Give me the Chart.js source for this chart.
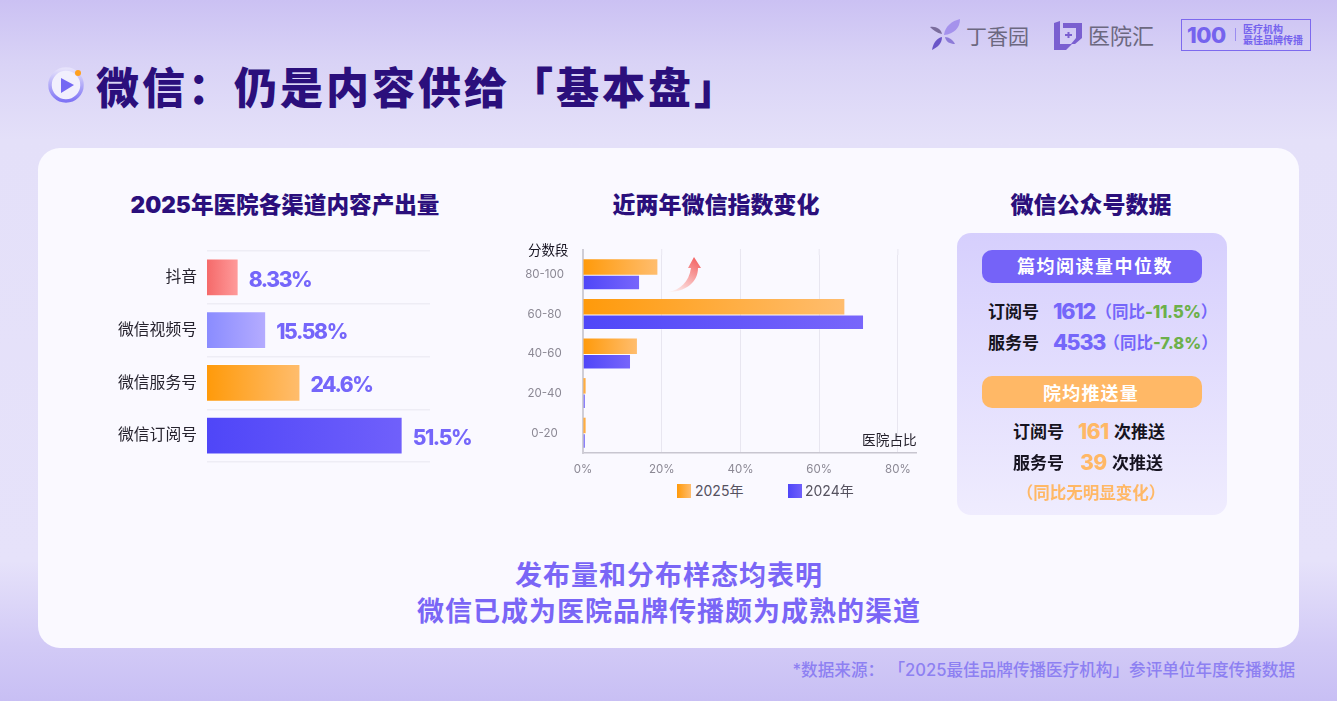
<!DOCTYPE html>
<html lang="zh-CN">
<head>
<meta charset="utf-8">
<title>微信：仍是内容供给「基本盘」</title>
<script src="https://cdn.jsdelivr.net/npm/chart.js@4"></script>
<style>
html,body{margin:0;padding:0}
body{width:1337px;height:701px;overflow:hidden;position:relative;font-family:Inter,"Noto Sans CJK SC",sans-serif;
  background:linear-gradient(180deg,#cbc1f3 0%,#d9d3f6 9%,#e4e0f9 20%,#e6e2fa 80%,#d2caf6 92%,#c8bff4 100%)}
.t{position:absolute;white-space:nowrap;line-height:1;transform:translateY(-50%)}
.c{transform:translate(-50%,-50%)}
.b{font-weight:700}
.h{font-weight:900;color:#2b0f7c;font-size:22.6px}
.p{color:#7566fa;font-weight:700}
.n{font-size:21.5px;font-weight:800;letter-spacing:-1.2px}
.g{color:#6cb04a;font-weight:800}
.o{color:#ffb866;font-weight:800}
.k{color:#161320;font-size:17px;font-weight:700}
#card{position:absolute;left:38px;top:148px;width:1261px;height:500px;border-radius:22px;background:#faf9ff}
#panel{position:absolute;left:957px;top:233px;width:270px;height:282px;border-radius:14px;background:linear-gradient(180deg,#d6cffd,#efecfe)}
.pill{position:absolute;left:982px;width:220px;border-radius:10px}
canvas{position:absolute}
.sw{position:absolute;width:14px;height:14px;top:484px}
</style>
</head>
<body>
<div id="card"></div>

<!-- title -->
<svg style="position:absolute;left:44px;top:62px" width="46" height="46" viewBox="0 0 46 46">
  <defs><linearGradient id="ring" x1="0" y1="0" x2="0" y2="1"><stop offset="0" stop-color="#e6e2fb"/><stop offset="1" stop-color="#7f74f5"/></linearGradient></defs>
  <circle cx="22" cy="23" r="16" fill="#f1effd" stroke="url(#ring)" stroke-width="3.5"/>
  <path d="M17 16 L30 23 L17 31 Z" fill="#7468f3"/>
  <circle cx="34" cy="11" r="3" fill="#ffa01e"/>
</svg>
<div class="t" style="left:96px;top:88px;font-size:43px;font-weight:900;letter-spacing:3px;color:#2b0f7c">微信：仍是内容供给「基本盘」</div>

<!-- logos -->
<svg style="position:absolute;left:928px;top:18px" width="36" height="34" viewBox="0 0 36 34">
  <path d="M16 17 C17 8 24 3 32 1 C32 10 26 16 16 17Z" fill="#a592ec"/>
  <path d="M14 16 C9 15 5 12 2 9 C8 8 13 11 14 16Z" fill="#7a6c9c"/>
  <path d="M14 19 C9 20 5 25 4 32 C10 29 14 25 14 19Z" fill="#6a55c8"/>
  <path d="M17 19 C21 19 25 22 27 26 C22 26 18 24 17 19Z" fill="#8d7bd8"/>
</svg>
<div class="t" style="left:966px;top:36px;font-size:21px;color:#6c6880">丁香园</div>
<svg style="position:absolute;left:1052px;top:20px" width="32" height="32" viewBox="0 0 32 32">
  <path d="M2 3 L8 1 V24 H20 L14 30 H2Z" fill="#7a5fd0"/>
  <path d="M11 3 H30 V18 L23 24 H19 L24 18 V8 H11Z" fill="#7a5fd0"/>
  <path d="M13 15 H20 M16.5 12 V18" stroke="#7a5fd0" stroke-width="2"/>
</svg>
<div class="t" style="left:1088px;top:36px;font-size:22px;color:#6c6880">医院汇</div>
<div style="position:absolute;left:1181px;top:19px;width:128px;height:30px;border:1px solid #7d69ee"></div>
<div class="t" style="left:1187px;top:35px;font-size:22px;font-weight:800;letter-spacing:-.5px;color:#7563ee">100</div>
<div style="position:absolute;left:1235px;top:28px;width:1px;height:13px;background:#9a8cf0"></div>
<div class="t b" style="left:1243px;top:29px;font-size:10px;color:#7563ee">医疗机构</div>
<div class="t b" style="left:1243px;top:40px;font-size:10px;color:#7563ee">最佳品牌传播</div>

<!-- section titles -->
<div class="t c h" style="left:285px;top:205px">2025年医院各渠道内容产出量</div>
<div class="t c h" style="left:716px;top:205px;font-size:23px">近两年微信指数变化</div>
<div class="t c h" style="left:1091px;top:205px;font-size:23px">微信公众号数据</div>

<!-- charts -->
<canvas id="shareChart" width="380" height="225" style="left:100px;top:245px"></canvas>
<canvas id="indexChart" width="412" height="240" style="left:508px;top:240px"></canvas>
<div class="t" style="left:528px;top:251px;font-size:13.5px;color:#161320">分数段</div>
<div class="t" style="left:862px;top:441px;font-size:13.7px;color:#26232e">医院占比</div>
<svg style="position:absolute;left:668px;top:252px" width="40" height="44" viewBox="0 0 40 44">
  <defs><linearGradient id="arrow" x1="0.1" y1="1" x2="0.7" y2="0"><stop offset="0" stop-color="#fdf3f3"/><stop offset="1" stop-color="#f46a6a"/></linearGradient></defs>
  <path d="M0 40 C12 38 21 30 23 16 H20 L26 5 L33 16 H30 C30 30 18 40 0 40Z" fill="url(#arrow)"/>
</svg>
<div class="sw" style="left:677px;background:linear-gradient(90deg,#ff9a0a,#ffbd6e)"></div>
<div class="t" style="left:695px;top:491px;font-size:14px;color:#55525f">2025年</div>
<div class="sw" style="left:788px;background:linear-gradient(90deg,#4f46f8,#7060fb)"></div>
<div class="t" style="left:805px;top:491px;font-size:14px;color:#55525f">2024年</div>

<!-- wechat account panel -->
<div id="panel"></div>
<div class="pill" style="top:250px;height:33px;background:#7563f8"></div>
<div class="t c b" style="left:1095px;top:267px;font-size:18px;letter-spacing:1.5px;color:#fff">篇均阅读量中位数</div>
<div class="t k" style="left:988px;top:312px">订阅号</div>
<div class="t p n" style="left:1053px;top:312px">1612</div>
<div class="t p" style="left:1095.5px;top:312px;font-size:16.5px">（同比<span class="g" style="font-size:17px;letter-spacing:-.3px">-11.5%</span>）</div>
<div class="t k" style="left:988px;top:343px">服务号</div>
<div class="t p n" style="left:1053px;top:343px">4533</div>
<div class="t p" style="left:1103.5px;top:343px;font-size:16.5px">（同比<span class="g">-7.8%</span>）</div>
<div class="pill" style="top:376px;height:32px;background:#ffb866"></div>
<div class="t c b" style="left:1091px;top:394px;font-size:18px;letter-spacing:1.2px;color:#fff">院均推送量</div>
<div class="t k" style="left:1013px;top:432px">订阅号</div>
<div class="t o" style="left:1078px;top:431px;font-size:21px;letter-spacing:-.6px">161</div>
<div class="t k" style="left:1114px;top:432px">次推送</div>
<div class="t k" style="left:1013px;top:463px">服务号</div>
<div class="t o" style="left:1080px;top:462px;font-size:21px;letter-spacing:-.6px">39</div>
<div class="t k" style="left:1112px;top:463px">次推送</div>
<div class="t c o" style="left:1091px;top:493px;font-size:16.5px;font-weight:700">（同比无明显变化）</div>

<!-- conclusion and source -->
<div class="t c b" style="left:669px;top:575px;font-size:27px;letter-spacing:1px;color:#7a66f6">发布量和分布样态均表明</div>
<div class="t c b" style="left:669px;top:611px;font-size:27px;letter-spacing:1px;color:#7a66f6">微信已成为医院品牌传播颇为成熟的渠道</div>
<div class="t" style="right:42px;top:670px;font-size:16.6px;font-weight:500;color:#8d80f2">*数据来源： 「2025最佳品牌传播医疗机构」参评单位年度传播数据</div>

<script>
const channels = ["抖音", "微信视频号", "微信服务号", "微信订阅号"];
const channelValues = [8.33, 15.58, 24.6, 51.5];
const channelColors = [["#f56a6a", "#ff9c9c"], ["#8a8cff", "#b5acff"], ["#ff9a0a", "#ffbd6e"], ["#4f46f8", "#7060fb"]];

const scoreBands = ["80-100", "60-80", "40-60", "20-40", "0-20"];
const values2025 = [18.9, 66.4, 13.7, 0.7, 0.7];
const values2024 = [14.5, 71.4, 12.2, 0.7, 0.7];
const percentTicks = [0, 20, 40, 60, 80];

const cjk = 'Inter, "Noto Sans CJK SC", sans-serif';

// gradient runs along each bar, so it has to be built from the bar's own pixels
function barGradient(ctx, from, to) {
  const chart = ctx.chart;
  if (!ctx.parsed || !chart.chartArea) return from;
  const sx = chart.scales.x;
  const g = chart.ctx.createLinearGradient(sx.getPixelForValue(0), 0, sx.getPixelForValue(ctx.parsed.x), 0);
  g.addColorStop(0, from);
  g.addColorStop(1, to);
  return g;
}

// fixed axis box, and no extra room for half a tick label
function fixY(width) {
  return (s) => { s.width = width; s.paddingTop = 0; s.paddingBottom = 0; };
}

const valueLabels = {
  id: "valueLabels",
  afterDatasetsDraw(chart) {
    const c = chart.ctx;
    c.save();
    c.font = "800 21px " + cjk;
    c.letterSpacing = "-1.4px";
    c.fillStyle = "#7566fa";
    c.textBaseline = "middle";
    chart.getDatasetMeta(0).data.forEach((bar, i) => {
      c.fillText(channelValues[i] + "%", bar.x + 10, bar.y + 3);
    });
    c.restore();
  }
};

new Chart(document.getElementById("shareChart"), {
  type: "bar",
  plugins: [valueLabels],
  data: {
    labels: channels,
    datasets: [{
      data: channelValues,
      backgroundColor: (ctx) => barGradient(ctx, channelColors[ctx.dataIndex][0], channelColors[ctx.dataIndex][1]),
      borderColor: "rgba(255,255,255,0.45)",
      borderWidth: 1,
      categoryPercentage: 1,
      barPercentage: 0.72
    }]
  },
  options: {
    indexAxis: "y",
    responsive: false,
    animation: false,
    layout: { padding: { top: 6, right: 50, bottom: 8 } },
    plugins: { legend: { display: false }, tooltip: { enabled: false } },
    scales: {
      x: { display: false, min: 0, max: 58.7 },
      y: {
        afterFit: fixY(107),
        border: { display: false },
        grid: { color: "#eeedf5", lineWidth: 1.5, offset: true, drawTicks: false },
        ticks: { color: "#26232e", padding: 10, font: { size: 15.8, family: cjk } }
      }
    }
  }
});

// axis and grid lines run a little above the top bar row
const axisStubs = {
  id: "axisStubs",
  beforeDatasetsDraw(chart) {
    const c = chart.ctx, top = chart.chartArea.top;
    c.save();
    percentTicks.forEach((v) => {
      const x = chart.scales.x.getPixelForValue(v);
      c.strokeStyle = v === 0 ? "#cfcdd6" : "#e8e6f0";
      c.lineWidth = v === 0 ? 2 : 1;
      c.beginPath();
      c.moveTo(x, top);
      c.lineTo(x, top - 6);
      c.stroke();
    });
    c.restore();
  }
};

new Chart(document.getElementById("indexChart"), {
  type: "bar",
  plugins: [axisStubs],
  data: {
    labels: scoreBands,
    datasets: [
      { label: "2025年", data: values2025, backgroundColor: (ctx) => barGradient(ctx, "#ff9a0a", "#ffbd6e"), categoryPercentage: 0.783, barPercentage: 1 },
      { label: "2024年", data: values2024, backgroundColor: (ctx) => barGradient(ctx, "#4f46f8", "#7866fb"), borderColor: "rgba(255,255,255,0.4)", borderWidth: 1, categoryPercentage: 0.783, barPercentage: 1 }
    ]
  },
  options: {
    indexAxis: "y",
    responsive: false,
    animation: false,
    layout: { padding: { top: 15, right: 4 } },
    plugins: { legend: { display: false }, tooltip: { enabled: false } },
    scales: {
      x: {
        min: 0,
        max: 84.6,
        afterFit: (s) => { s.height = 27; s.paddingLeft = 0; s.paddingRight = 0; },
        afterBuildTicks: (s) => { s.ticks = percentTicks.map((v) => ({ value: v })); },
        border: { color: "#c8c6d0", width: 1.5 },
        grid: { color: "#e8e6f0", drawTicks: false },
        ticks: { color: "#8b8894", padding: 10, font: { size: 11.5, family: cjk }, callback: (v) => v + "%" }
      },
      y: {
        afterFit: fixY(75),
        border: { color: "#cfcdd6", width: 2 },
        grid: { display: false },
        ticks: { color: "#8b8894", padding: 11, crossAlign: "center", font: { size: 11.5, family: cjk } }
      }
    }
  }
});
</script>
</body>
</html>
